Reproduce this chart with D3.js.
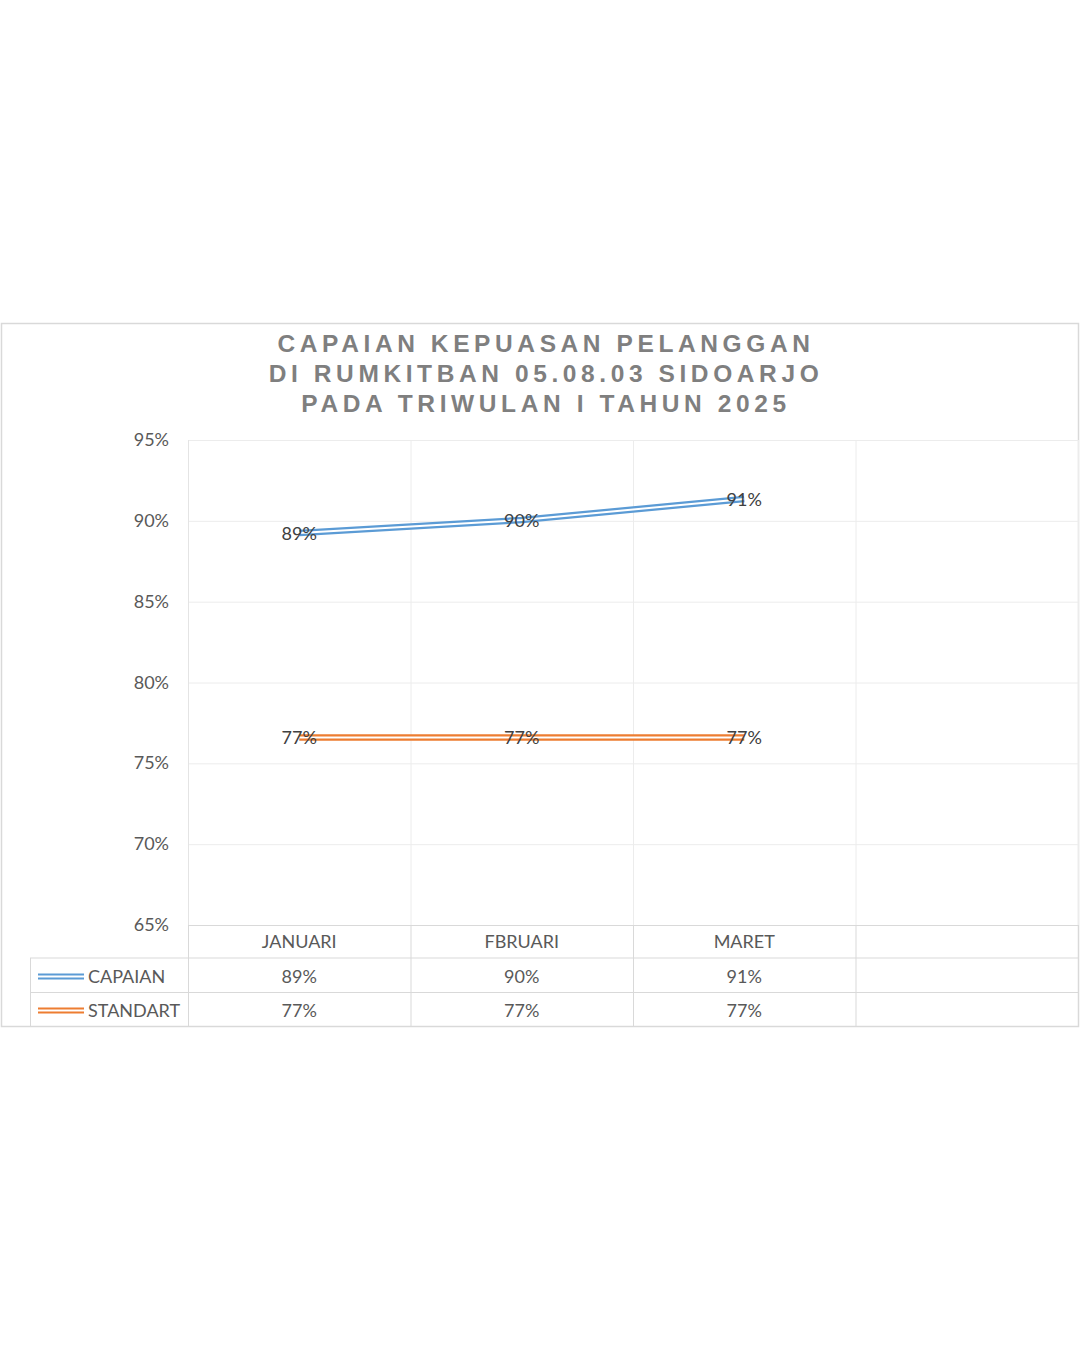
<!DOCTYPE html>
<html>
<head>
<meta charset="utf-8">
<script src="https://cdn.jsdelivr.net/npm/d3@7"></script>
<style>
  body { margin: 0; background: #fff; }
  svg { display: block; }
</style>
</head>
<body>
<svg id="chart" width="1080" height="1350"></svg>
<script>
const titleLines = ["CAPAIAN KEPUASAN PELANGGAN", "DI RUMKITBAN 05.08.03 SIDOARJO", "PADA TRIWULAN I TAHUN 2025"];
const months = ["JANUARI", "FBRUARI", "MARET", ""];
const capaian = [89.25, 90.05, 91.35];
const standart = [76.6, 76.6, 76.6];
const yTicks = [65, 70, 75, 80, 85, 90, 95];

const series = [
    {name: "CAPAIAN", values: capaian, color: "#5b9bd5"},
    {name: "STANDART", values: standart, color: "#ed7d31"}
];

const svg = d3.select("#chart");
const font = "Lato, 'Open Sans', sans-serif";
const gridColor = "#ececec";
const tableColor = "#d9d9d9";

// chart frame
svg.append("rect")
    .attr("x", 1.5).attr("y", 323.5)
    .attr("width", 1077).attr("height", 703)
    .attr("fill", "#fff")
    .attr("stroke", "#d9d9d9")
    .attr("stroke-width", 1.5);

// title
svg.append("g").selectAll("text")
    .data(titleLines)
    .enter().append("text")
    .attr("x", 546)
    .attr("y", (d, i) => 352 + i * 30)
    .attr("text-anchor", "middle")
    .style("font-family", "'Liberation Sans', Arial, sans-serif")
    .style("font-weight", "bold")
    .style("font-size", "24.5px")
    .style("letter-spacing", "4.6px")
    .style("fill", "#7f7f7f")
    .text(d => d);

const plotLeft = 188, plotRight = 1078, plotTop = 440, plotBottom = 925;

const x = d3.scaleBand()
    .domain(months.map((d, i) => i))
    .range([plotLeft, plotRight]);

const y = d3.scaleLinear()
    .domain([65, 95])
    .range([plotBottom, plotTop]);

// horizontal gridlines
svg.append("g").selectAll("line")
    .data(yTicks)
    .enter().append("line")
    .attr("x1", plotLeft).attr("x2", plotRight)
    .attr("y1", d => y(d) + 0.5).attr("y2", d => y(d) + 0.5)
    .style("stroke", d => d === 65 ? tableColor : gridColor)
    .style("stroke-width", 1);

// vertical gridlines between categories
svg.append("g").selectAll("line")
    .data(months.map((d, i) => i).concat([months.length]))
    .enter().append("line")
    .attr("x1", d => (d < months.length ? x(d) : plotRight) + 0.5)
    .attr("x2", d => (d < months.length ? x(d) : plotRight) + 0.5)
    .attr("y1", plotTop)
    .attr("y2", plotBottom)
    .style("stroke", d => d === 0 ? "#e4e4e4" : gridColor);

// y axis labels
svg.append("g").selectAll("text")
    .data(yTicks)
    .enter().append("text")
    .attr("x", 169)
    .attr("y", d => y(d) + 6)
    .attr("text-anchor", "end")
    .style("font-family", font)
    .style("font-size", "18px")
    .style("fill", "#595959")
    .text(d => d + "%");

// double lines
const line = d3.line()
    .x((d, i) => x(i) + x.bandwidth() / 2)
    .y(d => y(d));

const lines = svg.append("g");
series.forEach(s => {
    lines.append("path")
        .attr("d", line(s.values))
        .style("fill", "none")
        .style("stroke", s.color)
        .style("stroke-width", 6.5);
    lines.append("path")
        .attr("d", line(s.values))
        .style("fill", "none")
        .style("stroke", "#fff")
        .style("stroke-width", 2);
});

// data labels
series.forEach(s => {
    svg.append("g").selectAll("text")
        .data(s.values)
        .enter().append("text")
        .attr("x", (d, i) => x(i) + x.bandwidth() / 2)
        .attr("y", d => y(d) + 7)
        .attr("text-anchor", "middle")
        .style("font-family", font)
        .style("font-size", "18px")
        .style("fill", "#404040")
        .text(d => Math.round(d) + "%");
});

// data table
const rowH = 34;
const tableTop = plotBottom;
const tableLeft = 30;
const table = svg.append("g");

// header labels
table.selectAll(".cat")
    .data(months)
    .enter().append("text")
    .attr("x", (d, i) => x(i) + x.bandwidth() / 2)
    .attr("y", tableTop + 23)
    .attr("text-anchor", "middle")
    .style("font-family", font)
    .style("font-size", "18px")
    .style("fill", "#595959")
    .text(d => d);

// horizontal table lines
[1, 2, 3].forEach(r => {
    table.append("line")
        .attr("x1", tableLeft)
        .attr("x2", plotRight)
        .attr("y1", tableTop + r * rowH - 0.5 + (r === 1 ? -0.5 : 0))
        .attr("y2", tableTop + r * rowH - 0.5 + (r === 1 ? -0.5 : 0))
        .style("stroke", tableColor);
});
// vertical table lines
table.append("line")
    .attr("x1", tableLeft + 0.5).attr("x2", tableLeft + 0.5)
    .attr("y1", tableTop + rowH - 1).attr("y2", tableTop + 3 * rowH)
    .style("stroke", tableColor);
months.forEach((m, i) => {
    table.append("line")
        .attr("x1", x(i) + 0.5).attr("x2", x(i) + 0.5)
        .attr("y1", tableTop).attr("y2", tableTop + 3 * rowH)
        .style("stroke", tableColor);
});

series.forEach((s, si) => {
    const cy = tableTop + rowH * (si + 1) + rowH / 2;
    // legend key
    table.append("line")
        .attr("x1", 38).attr("x2", 84)
        .attr("y1", cy - 1.5).attr("y2", cy - 1.5)
        .style("stroke", s.color).style("stroke-width", 2);
    table.append("line")
        .attr("x1", 38).attr("x2", 84)
        .attr("y1", cy + 2.5).attr("y2", cy + 2.5)
        .style("stroke", s.color).style("stroke-width", 2);
    table.append("text")
        .attr("x", 88)
        .attr("y", cy + 7)
        .style("font-family", font)
        .style("font-size", "18px")
        .style("fill", "#595959")
        .text(s.name);
    table.selectAll(".v" + si)
        .data(s.values)
        .enter().append("text")
        .attr("x", (d, i) => x(i) + x.bandwidth() / 2)
        .attr("y", cy + 7)
        .attr("text-anchor", "middle")
        .style("font-family", font)
        .style("font-size", "18px")
        .style("fill", "#595959")
        .text(d => Math.round(d) + "%");
});
</script>
</body>
</html>
